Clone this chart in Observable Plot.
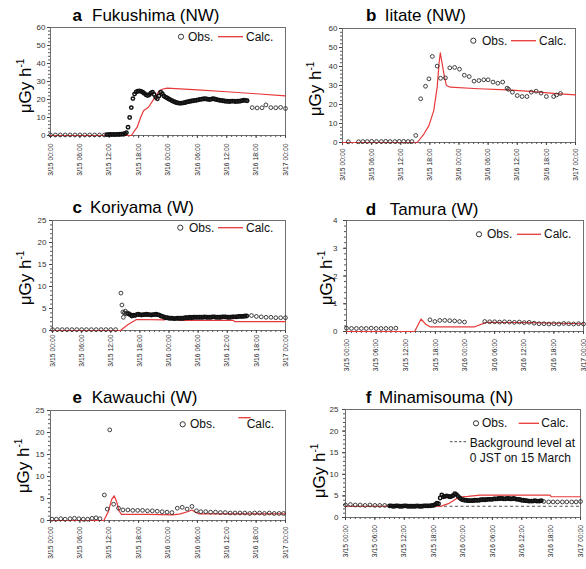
<!DOCTYPE html>
<html><head><meta charset="utf-8">
<script src="https://cdn.jsdelivr.net/npm/d3@7"></script>
<script src="https://cdn.jsdelivr.net/npm/@observablehq/plot@0.6"></script>
<style>
body{margin:0;background:#fff;font-family:"Liberation Sans",Arial,sans-serif;}
#wrap{position:relative;width:586px;height:569px;overflow:hidden;}
.pl{position:absolute;}
.t{position:absolute;font-size:17px;color:#000;white-space:nowrap;line-height:1;}
.yl{position:absolute;font-size:17px;white-space:nowrap;line-height:1;transform:translate(-50%,-50%) rotate(-90deg);}
.yl sup{font-size:10px;vertical-align:7px;line-height:0;}
.lg{position:absolute;font-size:12px;white-space:nowrap;line-height:1;color:#111;}
svg.sym{position:absolute;overflow:visible;}
</style></head><body><div id="wrap"></div>
<script>
// ---------- shared axis data ----------
const tickHours = [0, 6, 12, 18, 24, 30, 36, 42, 48];
const tickLabels = ["3/15 00:00","3/15 06:00","3/15 12:00","3/15 18:00","3/16 00:00","3/16 06:00","3/16 12:00","3/16 18:00","3/17 00:00"];
const titles = ["Fukushima (NW)", "Iitate (NW)", "Koriyama (W)", "Tamura (W)", "Kawauchi (W)", "Minamisouma (N)"];
const letters = ["a", "b", "c", "d", "e", "f"];
const DENSE_STEP = 1/3; // hours between dense observations

// ---------- a Fukushima ----------
const aObsHours = [0,1,2,3,4,5,6,7,8,9,10,11, 41.2,42.2,43.2,44,45,46,47,48];
const aObsVals  = [0.3,0.3,0.3,0.3,0.3,0.3,0.3,0.3,0.3,0.3,0.3,0.3, 15.5,15.3,15.4,17.0,15.5,15.4,15.6,15.0];
const aDenseStart = 11.5;
const aDense = [0.5,0.5,0.6,0.5,0.6,0.5,0.6,0.6,0.7,0.7,0.8,1.0,1.5,4.6,10,15.5,20.5,23,24.2,24.6,24.8,24.5,24.0,23.4,22.6,22.2,22.6,23.5,24.0,22.8,21.2,20.4,22.0,24.0,23.2,22.0,21.3,20.8,20.3,19.8,19.3,18.9,18.5,18.2,18.0,17.9,18.0,18.1,18.3,18.6,18.8,19.0,19.2,19.3,19.5,19.6,19.8,20.0,20.2,20.3,20.4,20.3,20.1,20.0,20.2,20.4,20.3,20.0,19.8,19.6,19.5,19.3,19.2,19.0,19.0,18.9,19.0,19.1,19.0,18.9,19.0,19.0,19.2,19.4,19.6,19.5,19.3];
const aCalcHours = [0,16.5,17.7,18.4,19,20,21,22.1,22.8,23.8,30,36,42,48];
const aCalcVals  = [0,0,4.6,10,13.7,15.7,19.8,24.4,25.7,26.3,25.3,24.3,23.2,22.0];

// ---------- b Iitate ----------
const bObsHours = [1.2,3.3,4.2,5.1,6,7,8,8.9,9.8,10.8,11.7,12.6,13.5,14.3,15.1,16.1,17.1,17.8,18.5,19.5,20.2,21.2,22.1,23.1,24.1,25.1,26.1,27.1,28.1,29.1,30,31,32,33,33.9,34.2,35,36,37,38,38.9,39.9,40.9,42,43.5,44.1,44.9];
const bObsVals  = [0.4,0.4,0.5,0.5,0.6,0.5,0.5,0.6,0.5,0.5,0.6,0.6,0.5,0.5,3.7,23,29.6,33.5,45.3,40.2,33.8,34,39.3,39.5,38.6,35.4,34.7,32.3,32.6,33,33,31.8,31.2,31.8,28.6,28.0,26.5,24.7,24.2,24.2,26.5,27,26,24.2,24.2,25,25.8];
const bCalcHours = [0,15.4,16.8,17.8,18.8,19.5,19.9,20.15,20.5,20.9,21.4,22.2,28,34,40,44,48];
const bCalcVals  = [0,0,4.6,8.9,16.8,29,42,47.2,42,36,30,29.1,28.3,27.7,26.6,25.7,25.1];

// ---------- c Koriyama ----------
const cObsHours = [0,1,2,3,4,5,6,7,8,9,10,11,12,13, 14.1,14.3,14.5,14.6,14.8,15.0,15.2,15.4, 41,42,43,44,45,46,47,48];
const cObsVals  = [0.2,0.2,0.2,0.2,0.2,0.2,0.2,0.2,0.2,0.2,0.2,0.2,0.2,0.2, 8.5,5.8,4.2,3.0,4.0,4.4,3.8,4.0, 3.4,3.2,3.1,3.0,3.0,2.9,2.9,2.9];
const cDenseStart = 15.67;
const cDense = [3.8,3.6,3.3,3.5,3.4,3.6,3.7,3.6,3.5,3.6,3.6,3.7,3.6,3.6,3.5,3.6,3.6,3.7,3.6,3.5,3.3,3.2,3.0,2.9,2.9,2.8,2.8,2.8,2.7,2.7,2.8,2.8,2.8,2.8,2.8,2.9,2.9,2.9,3.0,2.9,3.0,3.0,3.0,3.0,3.0,3.0,3.0,3.1,3.0,3.0,3.0,3.0,3.1,3.1,3.0,3.0,3.0,3.0,3.1,3.1,3.1,3.0,3.0,3.0,3.1,3.1,3.1,3.1,3.2,3.2,3.2,3.2,3.3,3.3];
const cCalcHours = [0,14,15.5,17.3,23,23.6,25.7,26,37.3,37.5,48];
const cCalcVals  = [0,0,1.3,2.5,2.4,2.7,2.7,2.3,2.3,2.0,2.0];

// ---------- d Tamura ----------
const dObsHours = [0,1,2,3,4,5,6,7,8,9,10, 16.9,17.9,18.9,19.9,20.9,21.9,22.9,23.9, 28,29,30,31,32,33,34,35,36,37,38,39,40,41,42,43,44,45,46,47,48];
const dObsVals  = [0.12,0.11,0.11,0.11,0.11,0.12,0.11,0.11,0.11,0.11,0.12, 0.42,0.36,0.40,0.40,0.39,0.38,0.36,0.34, 0.36,0.35,0.35,0.34,0.35,0.34,0.33,0.34,0.32,0.33,0.30,0.28,0.28,0.27,0.28,0.27,0.29,0.28,0.27,0.28,0.27];
const dCalcHours = [0,13.8,15.1,16.1,16.9,26,28.3,37,48];
const dCalcVals  = [0,0,0.45,0.25,0.17,0.17,0.33,0.32,0.28];

// ---------- e Kawauchi ----------
const eObsHours = [0.3,1.2,2.1,3.0,4.0,4.9,5.8,6.7,7.6,8.5,9.3,10.1, 11,11.6,12.1,12.9,13.9,14.8, 15.8,16.8,17.8,18.8,19.8,20.8,21.8,22.8,23.8,24.8,25.9,26.9,27.9,28.9,29.8,30.7,31.7,32.7,33.7, 34.7,35.7,36.7,37.7,38.7,39.7,40.7,41.7,42.7,43.7,44.7,45.7,46.7,47.6];
const eObsVals  = [0.3,0.3,0.4,0.3,0.4,0.5,0.4,0.3,0.3,0.5,0.6,0.4, 5.8,2.6,20.6,3.7,2.8,2.4, 2.4,2.3,2.3,2.3,2.2,2.2,2.1,2.0,1.9,1.8,2.8,3.0,2.6,3.2,2.2,2.0,2.0,1.9,1.9, 1.8,1.8,1.7,1.7,1.7,1.7,1.6,1.7,1.7,1.6,1.7,1.6,1.6,1.6];
const eCalcHours = [0,10.9,11.8,12.5,13.0,13.5,14.0,14.5,20,25,26.5,28,28.9,29.6,30.4,48];
const eCalcVals  = [0,0,2,4.8,5.6,4.3,2.2,1.4,1.4,1.3,1.5,2.0,2.4,1.9,1.5,1.5];

// ---------- f Minamisouma ----------
const fObsHours = [0,1,2,3,4,5,6,7,8, 40.5,41.5,42.4,43.3,44.3,45.2,46.2,47.1,48];
const fObsVals  = [2.9,3.0,2.9,2.9,2.8,2.9,2.8,2.8,2.8, 3.7,3.6,3.6,3.6,3.6,3.6,3.6,3.6,3.7];
const fDenseStart = 9;
const fDense = [2.7,2.7,2.6,2.6,2.7,2.7,2.6,2.6,2.6,2.7,2.7,2.6,2.6,2.6,2.6,2.6,2.6,2.7,2.6,2.6,2.6,2.7,2.7,2.7,2.7,2.7,2.8,2.8, 3.0,3.3,3.2,4.5,5.2,4.8,4.9,5.0,4.9,4.8,4.9,5.1,5.5,5.3,4.9,4.5,4.2,4.1,4.0, 4.0,3.9,3.9,3.9,3.9,4.0,4.0,4.0,4.0,4.1,4.1,4.1,4.1,4.2,4.2,4.2,4.2,4.3,4.3,4.3,4.4,4.4,4.4,4.3,4.3,4.4,4.4,4.3,4.3,4.4,4.3,4.2,4.2, 4.1,4.0,4.0,3.9,3.9,3.8,3.8,3.8,3.8,3.9,3.8,3.8,3.8,3.9];
const fCalcHours = [0,19.5,20,21,22,22.7,23.8,25,27.5,41.8,42,48];
const fCalcVals  = [2.6,2.6,2.8,3.2,3.9,4.4,4.8,4.9,5.2,5.2,4.8,4.8];
const fBackground = 2.6;

// ---------- build helpers ----------
function pairs(hours, vals) { return hours.map((h, i) => ({h, v: vals[i]})); }
function dense(start, vals) { return vals.map((v, i) => ({h: start + i * DENSE_STEP, v})); }

const panels = [
  {obs: pairs(aObsHours, aObsVals), dense: dense(aDenseStart, aDense), calc: pairs(aCalcHours, aCalcVals), ymax: 60, major: 10, minor: 2,
   box: {x: 0, y: 0, w: 293, h: 190, l: 50, r: 285, t: 27, b: 135}, gap: 8, ypad: 2,
   title: {lx: 72.5, nx: 92, base: 21.7}, ylab: {x: 25, y: 86},
   leg: {cx: 181, cy: 36.7, ox: 188, base: 40.7, l1: 218, l2: 243, ly: 36.7, calcx: 246}},
  {obs: pairs(bObsHours, bObsVals), dense: [], calc: pairs(bCalcHours, bCalcVals), ymax: 60, major: 10, minor: 2,
   box: {x: 293, y: 0, w: 293, h: 190, l: 342, r: 575, t: 28, b: 142}, gap: 6, ypad: 2,
   title: {lx: 366, nx: 384.7, base: 21.7}, ylab: {x: 315, y: 89},
   leg: {cx: 473.3, cy: 40.7, ox: 482, base: 44.8, l1: 511, l2: 536, ly: 40.7, calcx: 539}},
  {obs: pairs(cObsHours, cObsVals), dense: dense(cDenseStart, cDense), calc: pairs(cCalcHours, cCalcVals), ymax: 25, major: 5, minor: 1,
   box: {x: 0, y: 190, w: 293, h: 190, l: 52, r: 285, t: 220, b: 330}, gap: 4, ypad: 3,
   title: {lx: 72.5, nx: 90, base: 213.3}, ylab: {x: 25, y: 277.5},
   leg: {cx: 180.3, cy: 227.7, ox: 189, base: 231.7, l1: 218, l2: 243, ly: 227.7, calcx: 246}},
  {obs: pairs(dObsHours, dObsVals), dense: [], calc: pairs(dCalcHours, dCalcVals), ymax: 4, major: 1, minor: 0.2,
   box: {x: 293, y: 190, w: 293, h: 190, l: 346, r: 583, t: 220, b: 331}, gap: 7.5, ypad: 6,
   title: {lx: 365.7, nx: 389.7, base: 215}, ylab: {x: 326, y: 278},
   leg: {cx: 479, cy: 234.3, ox: 487, base: 238.3, l1: 517, l2: 541, ly: 234.3, calcx: 544}},
  {obs: pairs(eObsHours, eObsVals), dense: [], calc: pairs(eCalcHours, eCalcVals), ymax: 25, major: 5, minor: 1,
   box: {x: 0, y: 380, w: 293, h: 189, l: 50, r: 285, t: 410, b: 520}, gap: 6, ypad: 3,
   title: {lx: 72.5, nx: 91.7, base: 403.3}, ylab: {x: 23, y: 466},
   leg: {cx: 182.7, cy: 424.3, ox: 190, base: 428.3, l1: 238.3, l2: 250.7, ly: 417.7, calcx: 246.7}},
  {obs: pairs(fObsHours, fObsVals), dense: dense(fDenseStart, fDense), calc: pairs(fCalcHours, fCalcVals), ymax: 25, major: 5, minor: 1,
   box: {x: 293, y: 380, w: 293, h: 189, l: 345, r: 580, t: 409, b: 517}, gap: 7.5, ypad: 4,
   title: {lx: 365.7, nx: 379, base: 403.3}, ylab: {x: 319, y: 471},
   leg: {cx: 476, cy: 423.3, ox: 482, base: 426.8, l1: 518.7, l2: 539, ly: 423.3, calcx: 541.3},
   bg: fBackground}
];

const RED = "#e8393a";
const wrap = document.getElementById("wrap");

function addDiv(cls, left, top, html) {
  const d = document.createElement("div");
  d.className = cls; d.style.left = left + "px"; d.style.top = top + "px";
  d.innerHTML = html; wrap.appendChild(d); return d;
}
function addSym(svgInner) {
  const s = document.createElementNS("http://www.w3.org/2000/svg", "svg");
  s.setAttribute("class", "sym"); s.setAttribute("width", 586); s.setAttribute("height", 569);
  s.style.left = "0px"; s.style.top = "0px";
  s.innerHTML = svgInner; wrap.appendChild(s);
}

panels.forEach((p, k) => {
  const B = p.box;
  const majorT = d3.range(0, p.ymax + 1e-9, p.major);
  const minorT = d3.range(0, p.ymax + 1e-9, p.minor);
  const marks = [
    Plot.frame({stroke: "#6f6f6f", strokeWidth: 1}),
    Plot.axisX({ticks: d3.range(0, 49, 1), tickSize: 2, tickFormat: () => "", label: null, stroke: "#555"}),
    Plot.axisX({ticks: tickHours, tickSize: 3, tickPadding: p.gap - 3, tickRotate: -90,
      tickFormat: d => tickLabels[tickHours.indexOf(d)], label: null, fontSize: 6.8, fill: "#222", stroke: "#444"}),
    Plot.axisY({ticks: minorT, tickSize: 2, tickFormat: () => "", label: null, stroke: "#555"}),
    Plot.axisY({ticks: majorT, tickSize: 3, tickPadding: p.ypad, tickFormat: d => String(Math.round(d)), label: null, fontSize: 8, fill: "#333", stroke: "#444"})
  ];
  if (p.bg !== undefined) marks.push(Plot.ruleY([p.bg], {stroke: "#555", strokeWidth: 1, strokeDasharray: "3,2.5"}));
  marks.push(Plot.line(p.calc, {x: "h", y: "v", stroke: RED, strokeWidth: 1.2}));
  marks.push(Plot.dot(p.obs, {x: "h", y: "v", r: 1.9, stroke: "#2a2a2a", strokeWidth: 0.9, fill: "none"}));
  marks.push(Plot.dot(p.dense, {x: "h", y: "v", r: 1.7, stroke: "#111", strokeWidth: 1.5, fill: "none"}));

  const chart = Plot.plot({
    width: B.w, height: B.h,
    marginLeft: B.l - B.x, marginRight: B.x + B.w - B.r,
    marginTop: B.t - B.y, marginBottom: B.y + B.h - B.b,
    x: {domain: [0, 48]},
    y: {domain: [0, p.ymax]},
    style: {fontFamily: "'Liberation Sans', Arial, sans-serif", fontSize: "8px", background: "transparent", color: "#222"},
    marks
  });
  const holder = document.createElement("div");
  holder.className = "pl"; holder.style.left = B.x + "px"; holder.style.top = B.y + "px";
  holder.appendChild(chart); wrap.appendChild(holder);

  // title
  addDiv("t", p.title.lx, p.title.base - 14.4, "<b>" + letters[k] + "</b>");
  addDiv("t", p.title.nx, p.title.base - 14.4, titles[k]);
  // y label
  addDiv("yl", p.ylab.x, p.ylab.y, "μGy h<sup>-1</sup>");
  // legend
  const L = p.leg;
  addSym(`<circle cx="${L.cx}" cy="${L.cy}" r="2.6" fill="none" stroke="#333" stroke-width="1"/>` +
         `<line x1="${L.l1}" x2="${L.l2}" y1="${L.ly}" y2="${L.ly}" stroke="${RED}" stroke-width="1.3"/>` +
         (p.bg !== undefined ? `<line x1="450" x2="466" y1="441.7" y2="441.7" stroke="#444" stroke-width="1" stroke-dasharray="2.5,2"/>` : ""));
  addDiv("lg", L.ox, L.base - 10.2, "Obs.");
  addDiv("lg", L.calcx, L.base - 10.2, "Calc.");
  if (p.bg !== undefined) {
    addDiv("lg", 469.7, 446.7 - 10.2, "Background level at");
    addDiv("lg", 469.7, 461.7 - 10.2, "0 JST on 15 March");
  }
});
</script></body></html>
